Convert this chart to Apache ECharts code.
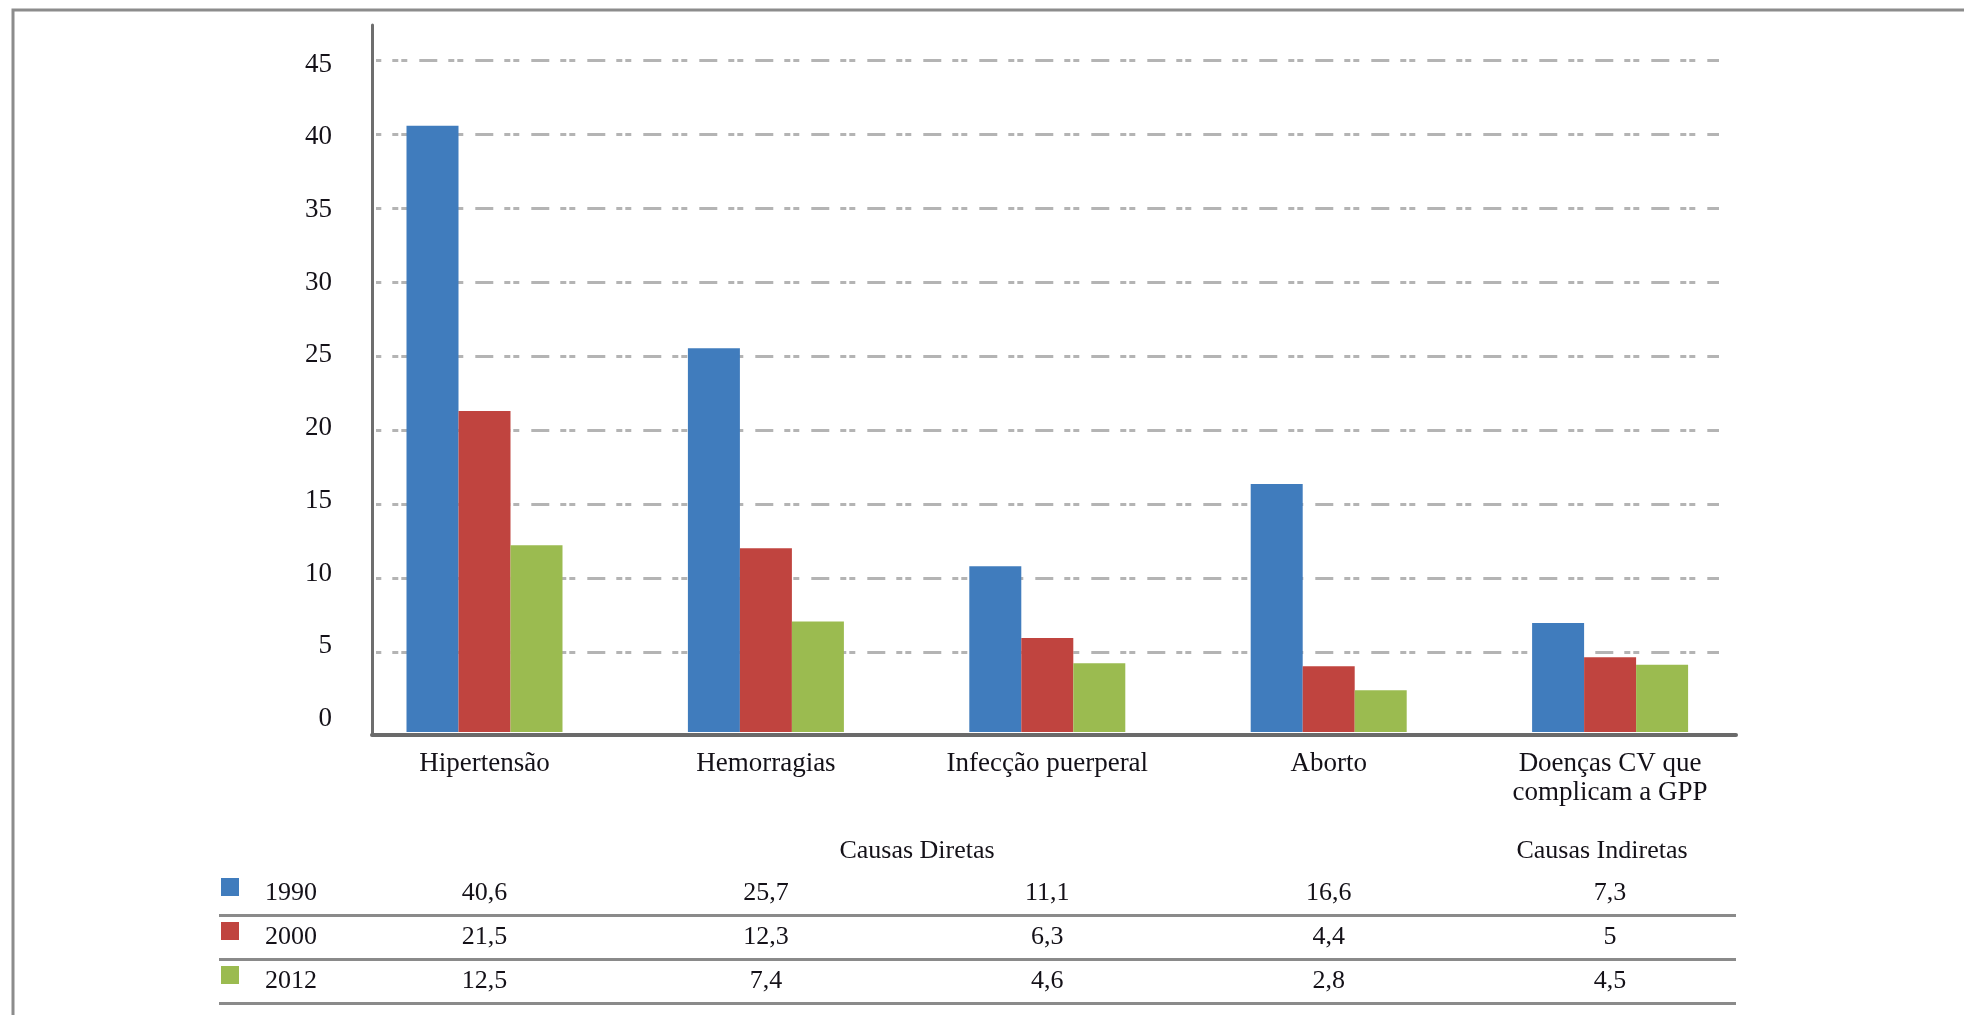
<!DOCTYPE html>
<html>
<head>
<meta charset="utf-8">
<script src="https://cdn.jsdelivr.net/npm/echarts@6/dist/echarts.min.js"></script>
<style>
  html, body { margin: 0; padding: 0; background: #ffffff; }
  #chart { width: 1964px; height: 1015px; }
</style>
</head>
<body>
<div id="chart"></div>
<script>
// Causas de morte materna, 1990 / 2000 / 2012
const categories = ['Hipertensão', 'Hemorragias', 'Infecção puerperal', 'Aborto', 'Doenças CV que\ncomplicam a GPP'];
const years = ['1990', '2000', '2012'];
const values1990 = [40.6, 25.7, 11.1, 16.6, 7.3];
const values2000 = [21.5, 12.3, 6.3, 4.4, 5];
const values2012 = [12.5, 7.4, 4.6, 2.8, 4.5];
const groupHeaders = ['Causas Diretas', 'Causas Indiretas'];
const yMin = 0, yMax = 45, yStep = 5;

const seriesValues = [values1990, values2000, values2012];
const colors = ['#407cbd', '#c0443f', '#9bbb50'];

const FONT = '"Liberation Serif", "DejaVu Serif", serif';
const TEXT = '#141118';

const fmt = v => String(v).replace('.', ',');

// table cells: [category index, row index, value]
const tableData = [];
seriesValues.forEach((arr, r) => arr.forEach((v, c) => tableData.push([c, r, v])));

const richRows = { t: { fontFamily: FONT, fontSize: 26, color: TEXT, lineHeight: 30, padding: [0, 0, 0, 26] } };
colors.forEach((c, i) => {
  richRows['sq' + i] = { width: 18, height: 18, backgroundColor: c, verticalAlign: 'top', lineHeight: 30 };
});

const hidden = { show: false };

const chart = echarts.init(document.getElementById('chart'), null, { renderer: 'canvas' });
chart.setOption({
  animation: false,
  backgroundColor: '#ffffff',
  grid: [
    { left: 372, top: 25, width: 1364, height: 710 },       // axis lines
    { left: 376, top: 64.5, width: 1343, height: 654.5 },   // y tick labels
    { left: 376, top: 60.7, width: 1343, height: 591.6 },   // dashed grid lines
    { left: 343.8, top: 60, width: 1407, height: 672 },     // bars
    { left: 343.8, top: 871, width: 1407, height: 132 },    // table values
    { left: 219, top: 915, width: 1517, height: 88 }        // table rules
  ],
  xAxis: [
    { gridIndex: 0, type: 'value', min: 0, max: 1,
      axisLine: { show: true, onZero: false, lineStyle: { color: '#6a6a6a', width: 4 } },
      axisTick: hidden, axisLabel: hidden, splitLine: hidden },
    { gridIndex: 1, type: 'value', min: 0, max: 1, show: false },
    { gridIndex: 2, type: 'value', min: 0, max: 1, show: false },
    { gridIndex: 3, type: 'category', data: categories,
      axisLine: hidden, axisTick: hidden, splitLine: hidden,
      axisLabel: { margin: 17.5, fontFamily: FONT, fontSize: 27, lineHeight: 29, color: TEXT, interval: 0 } },
    { gridIndex: 4, type: 'category', data: categories, show: false },
    { gridIndex: 5, type: 'value', min: 0, max: 1, show: false }
  ],
  yAxis: [
    { gridIndex: 0, type: 'value', min: 0, max: 1,
      axisLine: { show: true, onZero: false, lineStyle: { color: '#6e6e6e', width: 3 } },
      axisTick: hidden, axisLabel: hidden, splitLine: hidden },
    { gridIndex: 1, type: 'value', min: yMin, max: yMax, interval: yStep,
      axisLine: hidden, axisTick: hidden, splitLine: hidden,
      axisLabel: { margin: 44, fontFamily: FONT, fontSize: 27, color: TEXT } },
    { gridIndex: 2, type: 'value', min: yMin + yStep, max: yMax, interval: yStep,
      axisLine: hidden, axisTick: hidden, axisLabel: hidden,
      splitLine: { show: true, lineStyle: { color: '#b4b4b4', width: 3, type: [18, 11, 6, 3, 6, 12], dashOffset: 12.7 } } },
    { gridIndex: 3, type: 'value', min: yMin, max: yMax, show: false },
    { gridIndex: 4, type: 'category', data: years, inverse: true,
      axisLine: hidden, axisTick: hidden, splitLine: hidden,
      axisLabel: {
        margin: 122.8, align: 'left',
        formatter: (val, idx) => '{sq' + idx + '|}{t|' + val + '}',
        rich: richRows
      } },
    { gridIndex: 5, type: 'value', min: 0, max: 2, interval: 1,
      axisLine: hidden, axisTick: hidden, axisLabel: hidden,
      splitLine: { show: true, lineStyle: { color: '#8a8a8a', width: 3 } } }
  ],
  series: [
    ...seriesValues.map((arr, i) => ({
      name: years[i], type: 'bar', xAxisIndex: 3, yAxisIndex: 3,
      data: arr, barWidth: 52, barGap: '0%',
      itemStyle: { color: colors[i] }
    })),
    {
      type: 'scatter', xAxisIndex: 4, yAxisIndex: 4,
      data: tableData, symbolSize: 1,
      itemStyle: { color: 'rgba(255,255,255,0)', opacity: 1 },
      label: {
        show: true, position: 'inside', opacity: 1,
        formatter: p => fmt(p.value[2]),
        fontFamily: FONT, fontSize: 26, color: TEXT
      }
    }
  ],
  graphic: [
    { type: 'rect', silent: true, z: -10,
      shape: { x: 13, y: 10, width: 2200, height: 1200 },
      style: { fill: 'none', stroke: '#8c8c8c', lineWidth: 3 } },
    { type: 'text', x: 917, y: 851,
      style: { text: groupHeaders[0], font: '26px ' + FONT, fill: TEXT, align: 'center', verticalAlign: 'middle' } },
    { type: 'text', x: 1602, y: 851,
      style: { text: groupHeaders[1], font: '26px ' + FONT, fill: TEXT, align: 'center', verticalAlign: 'middle' } }
  ]
});
</script>
</body>
</html>
